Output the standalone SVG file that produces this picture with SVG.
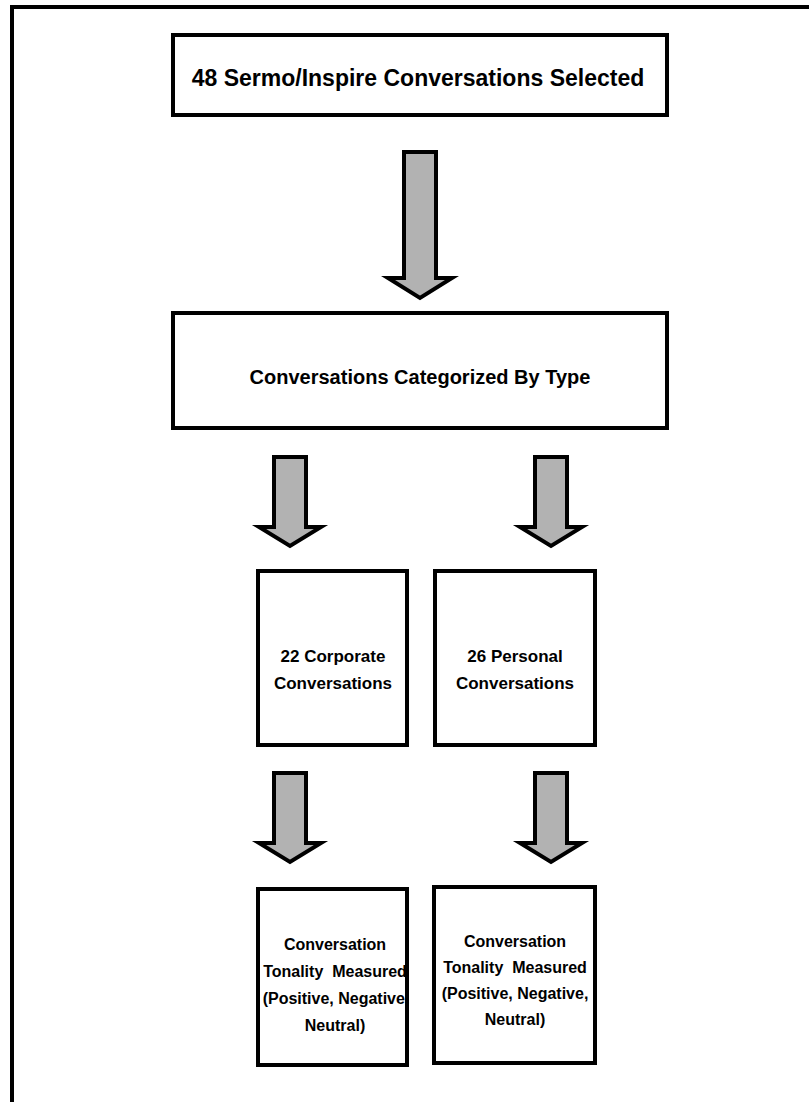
<svg xmlns="http://www.w3.org/2000/svg" width="809" height="1102" viewBox="0 0 809 1102">
<defs>
<style>
.box{fill:#ffffff;stroke:#000000;stroke-width:4}
.arrow{fill:#b2b2b2;stroke:#000000;stroke-width:4;stroke-linejoin:miter}
.t{font-family:"Liberation Sans",Arial,sans-serif;font-weight:bold;fill:#000000;text-anchor:middle;white-space:pre}
.s{font-size:16px}
</style>
</defs>
<rect width="809" height="1102" fill="#ffffff"/>
<path d="M12,1102 V7 H809" fill="none" stroke="#000000" stroke-width="4"/>
<g id="connectors">
<polygon class="arrow" points="404,152 436,152 436,278 452,278 420,298 388,278 404,278 404,152"/>
<polygon class="arrow" points="274,457 306,457 306,527 321,527 290,546 259,527 274,527 274,457"/>
<polygon class="arrow" points="535,457 567,457 567,527 582,527 551,546 520,527 535,527 535,457"/>
<polygon class="arrow" points="274,773 306,773 306,843 321,843 290,862 259,843 274,843 274,773"/>
<polygon class="arrow" points="535,773 567,773 567,843 582,843 551,862 520,843 535,843 535,773"/>
</g>
<g id="node-selected">
<rect class="box" x="173" y="35" width="494" height="80"/>
<text class="t" x="418" y="86" font-size="23">48 Sermo/Inspire Conversations Selected</text>
</g>
<g id="node-categorized">
<rect class="box" x="173" y="313" width="494" height="115"/>
<text class="t" x="420" y="384" font-size="20">Conversations Categorized By Type</text>
</g>
<g id="node-corporate">
<rect class="box" x="258" y="571" width="149" height="174"/>
<text class="t" x="333" y="662" font-size="17">22 Corporate</text>
<text class="t" x="333" y="689" font-size="17">Conversations</text>
</g>
<g id="node-personal">
<rect class="box" x="435" y="571" width="160" height="174"/>
<text class="t" x="515" y="662" font-size="17">26 Personal</text>
<text class="t" x="515" y="689" font-size="17">Conversations</text>
</g>
<g id="node-tonality-corporate">
<rect class="box" x="258" y="889" width="149" height="176"/>
<text class="t s" x="335" y="950">Conversation</text>
<text class="t s" x="335" y="977" xml:space="preserve">Tonality  Measured</text>
<text class="t s" x="336" y="1004">(Positive, Negative,</text>
<text class="t s" x="335" y="1031">Neutral)</text>
</g>
<g id="node-tonality-personal">
<rect class="box" x="434" y="887" width="161" height="176"/>
<text class="t s" x="515" y="947">Conversation</text>
<text class="t s" x="515" y="973" xml:space="preserve">Tonality  Measured</text>
<text class="t s" x="515" y="999">(Positive, Negative,</text>
<text class="t s" x="515" y="1025">Neutral)</text>
</g>
</svg>
